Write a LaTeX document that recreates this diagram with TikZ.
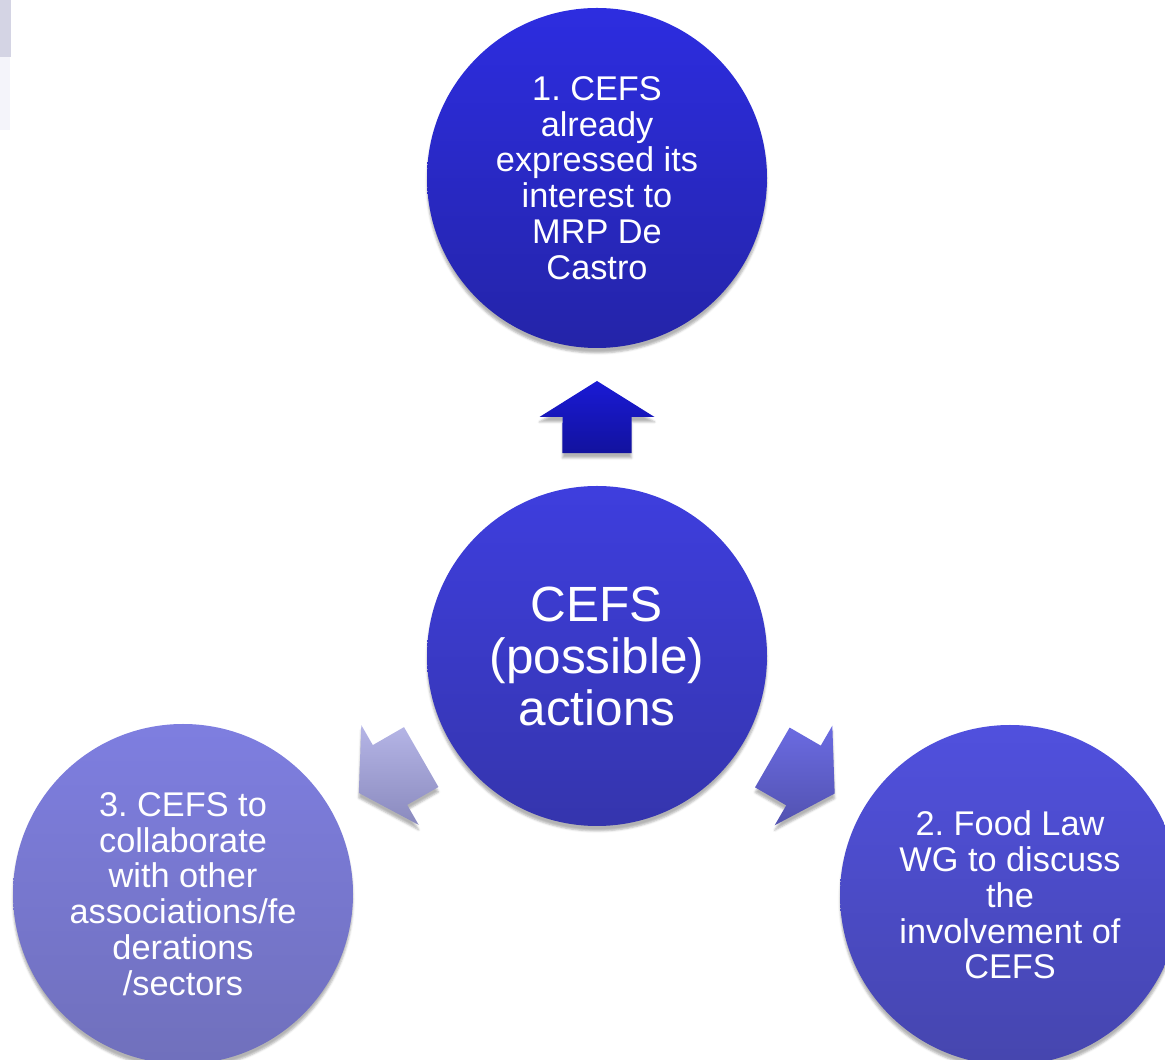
\documentclass[tikz,border=0pt]{standalone}
\usepackage{fontspec}
\setmainfont{Liberation Sans}
\usepackage{xcolor}
\usetikzlibrary{calc,shadows.blur}
\frenchspacing
\definecolor{topA}{HTML}{2D2DE0}\definecolor{topB}{HTML}{2424A8}
\definecolor{midA}{HTML}{3E3EDE}\definecolor{midB}{HTML}{3535AD}
\definecolor{leftA}{HTML}{7E7EE0}\definecolor{leftB}{HTML}{7070BC}
\definecolor{rightA}{HTML}{5050DE}\definecolor{rightB}{HTML}{4646AE}
% block arrow half way between two circles, pointing from #1 to #2
\newcommand{\flowarrow}[4]{%
\path[top color=#3, bottom color=#4, blur shadow={shadow xshift=0pt, shadow yshift=-5pt, shadow opacity=30}]
  let \p1 = ($(#2)-(#1)$), \p2 = ($(#1)!0.5!(#2)$), \n1 = {atan2(\y1,\x1)} in
  ($(\p2)+(\n1:36)$) -- ($(\p2)+(\n1+90:57.5)$) -- ($(\p2)+(\n1+90:34.5)$)
  -- ($(\p2)+(\n1+136.2:49.9)$) -- ($(\p2)+(\n1-136.2:49.9)$)
  -- ($(\p2)+(\n1-90:34.5)$) -- ($(\p2)+(\n1-90:57.5)$) -- cycle;}

\begin{document}
\begin{tikzpicture}[x=1pt, y=1pt,
  bubble/.style={circle, minimum size=340pt, inner sep=0pt, align=center, text=white,
    font=\fontsize{34.3}{35.8}\selectfont,
    blur shadow={shadow xshift=0pt, shadow yshift=-5pt, shadow opacity=30}}]
\useasboundingbox (0,0) rectangle (1165,1060);
% leftover corner
\fill[color={rgb,255:red,212;green,212;blue,228}] (0,1003) rectangle (11,1060);
\fill[color={rgb,255:red,244;green,244;blue,250}] (0,930) rectangle (10,1003);
% circles
\node[bubble, top color=midA, bottom color=midB, font=\fontsize{49.5}{52}\selectfont] (c0) at (597,404) {CEFS\\(possible)\\actions};
\node[bubble, top color=topA, bottom color=topB] (c1) at (597,882) {1. CEFS\\already\\expressed its\\interest to\\MRP De\\Castro};
\node[bubble, top color=rightA, bottom color=rightB] (c2) at (1010,165) {2. Food Law\\WG to discuss\\the\\involvement of\\CEFS};
\node[bubble, top color=leftA, bottom color=leftB] (c3) at (183,166) {3. CEFS to\\collaborate\\with other\\associations/fe\\derations\\/sectors};
% arrows
\flowarrow{c0}{c1}{{rgb,255:red,26;green,26;blue,213}}{{rgb,255:red,18;green,18;blue,158}}
\flowarrow{c0}{c2}{{rgb,255:red,107;green,107;blue,226}}{{rgb,255:red,82;green,82;blue,176}}
\flowarrow{c0}{c3}{{rgb,255:red,181;green,181;blue,230}}{{rgb,255:red,138;green,138;blue,190}}
\end{tikzpicture}
\end{document}
